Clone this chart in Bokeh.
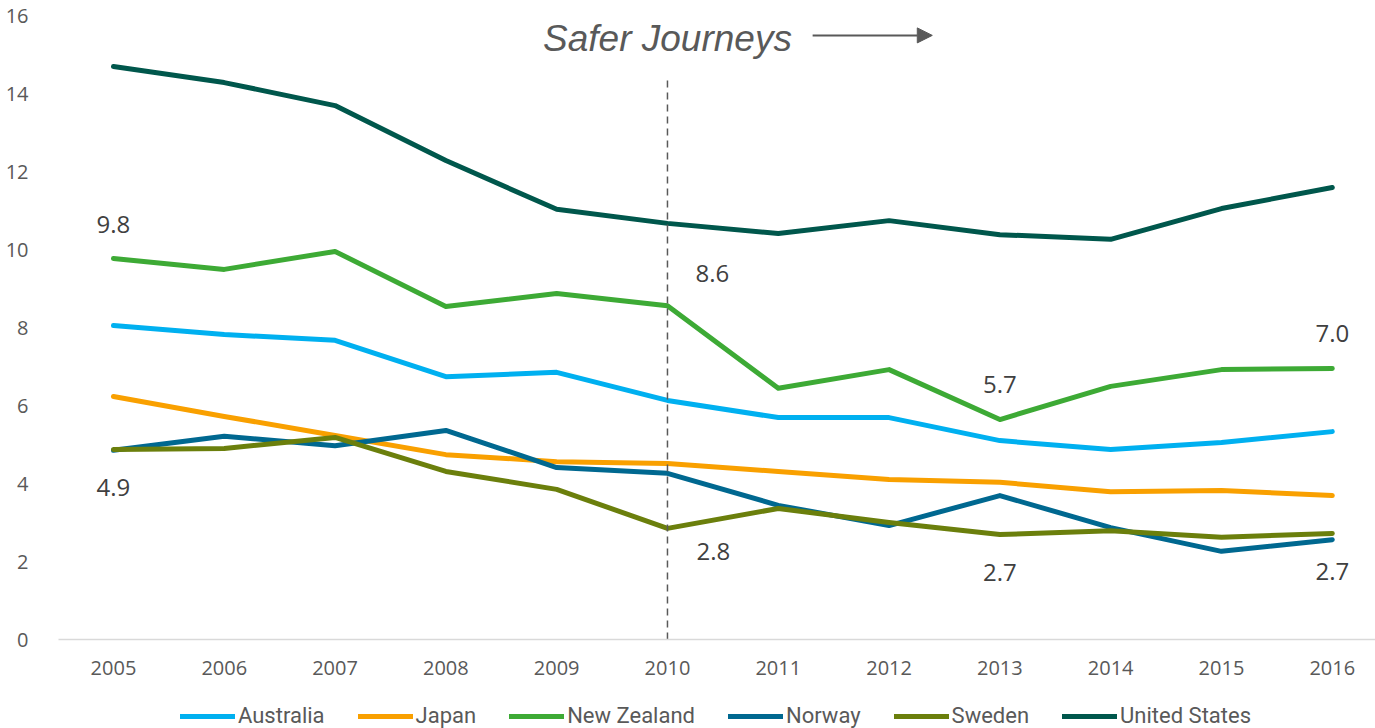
from bokeh.plotting import figure
from bokeh.layouts import column
from bokeh.models import (Range1d, FixedTicker, Legend, LegendItem, Label, Arrow,
                          NormalHead, ColumnDataSource)
from bokeh.core.properties import value
from bokeh.embed import file_html
from bokeh.resources import INLINE

years = [2005, 2006, 2007, 2008, 2009, 2010, 2011, 2012, 2013, 2014, 2015, 2016]
australia = [8.05, 7.82, 7.67, 6.74, 6.85, 6.13, 5.69, 5.69, 5.10, 4.87, 5.05, 5.33]
japan = [6.23, 5.72, 5.23, 4.74, 4.56, 4.51, 4.31, 4.10, 4.03, 3.79, 3.82, 3.69]
new_zealand = [9.77, 9.49, 9.95, 8.54, 8.87, 8.56, 6.44, 6.92, 5.64, 6.49, 6.92, 6.95]
norway = [4.85, 5.21, 4.97, 5.36, 4.41, 4.26, 3.44, 2.92, 3.69, 2.87, 2.26, 2.56]
sweden = [4.87, 4.90, 5.18, 4.31, 3.85, 2.85, 3.36, 3.00, 2.69, 2.79, 2.62, 2.72]
united_states = [14.69, 14.28, 13.69, 12.28, 11.03, 10.67, 10.41, 10.74, 10.38, 10.26, 11.05, 11.59]

series_names = ["Australia", "Japan", "New Zealand", "Norway", "Sweden", "United States"]
series_values = [australia, japan, new_zealand, norway, sweden, united_states]
series_colors = ["#00B0F0", "#F9A000", "#3DAA35", "#006890", "#6B7F0C", "#00574C"]

y_ticks = [0, 2, 4, 6, 8, 10, 12, 14, 16]
x_tick_labels = {y: str(y) for y in years}

# data labels: (year, value text, series)
label_years = [2005, 2005, 2010, 2010, 2013, 2013, 2016, 2016]
label_series = ["New Zealand", "Sweden", "New Zealand", "Sweden",
                "New Zealand", "Sweden", "New Zealand", "Sweden"]
label_texts = ["9.8", "4.9", "8.6", "2.8", "5.7", "2.7", "7.0", "2.7"]
# styling offsets (pixels)
label_dx = [0, 0, 45, 46, 0, 0, 0, 0]
label_dy = [-34, 38, -32, 23, -35, 38, -35, 38]

policy_year = 2010
policy_text = "Safer Journeys"

p = figure(width=1375, height=700, output_backend="svg", toolbar_location=None,
           x_range=Range1d(2004.504, 2016.39), y_range=Range1d(0, 16),
           min_border_left=58, min_border_top=15, min_border_right=0, min_border_bottom=61)
p.outline_line_color = None
p.xgrid.grid_line_color = None
p.ygrid.grid_line_color = None
p.background_fill_color = "white"
p.border_fill_color = "white"

renderers = []
for name, vals, col in zip(series_names, series_values, series_colors):
    r = p.line(years, vals, line_color=col, line_width=5, line_cap="round", line_join="round")
    renderers.append(r)

# data labels
lookup = dict(zip(series_names, series_values))
lx = [y for y in label_years]
ly = [lookup[s][years.index(y)] for s, y in zip(label_series, label_years)]
src = ColumnDataSource(dict(x=lx, y=ly, t=label_texts, dx=label_dx, dy=label_dy))
p.text(x="x", y="y", text="t", x_offset="dx", y_offset="dy", source=src,
       text_font=value("Open Sans"), text_font_size="24px", text_color="#404040",
       text_align="center", text_baseline="middle")

# policy marker
p.segment(x0=[policy_year], y0=[0], x1=[policy_year], y1=[14.46],
          line_color="#595959", line_width=1.5, line_dash="7 5")
p.add_layout(Label(x=policy_year, y=15.41, text=policy_text, text_font="Liberation Sans",
                   text_font_style="italic", text_font_size="37px", text_color="#595959",
                   text_align="center", text_baseline="middle"))
p.add_layout(Arrow(x_start=2011.31, y_start=15.49, x_end=2012.39, y_end=15.49,
                   line_color="#595959", line_width=2,
                   end=NormalHead(size=15, fill_color="#595959", line_color="#595959")))

# axes
p.xaxis.ticker = FixedTicker(ticks=years)
p.xaxis.major_label_overrides = x_tick_labels
p.xaxis.major_tick_line_color = None
p.xaxis.minor_tick_line_color = None
p.xaxis.axis_line_color = "#D9D9D9"
p.xaxis.axis_line_width = 1.5
p.xaxis.major_label_text_font = "Open Sans"
p.xaxis.major_label_text_font_size = "20px"
p.xaxis.major_label_text_color = "#595959"
p.xaxis.major_label_standoff = 15

p.yaxis.ticker = FixedTicker(ticks=y_ticks)
p.yaxis.major_tick_line_color = None
p.yaxis.minor_tick_line_color = None
p.yaxis.axis_line_color = None
p.yaxis.major_label_text_font = "Open Sans"
p.yaxis.major_label_text_font_size = "20px"
p.yaxis.major_label_text_color = "#595959"
p.yaxis.major_label_standoff = 24

# legend strip below the chart (series drawn outside its visible range, only legend shows)
p2 = figure(width=1375, height=28, output_backend="svg", toolbar_location=None,
            x_axis_type=None, y_axis_type=None, min_border=0,
            x_range=Range1d(0, 1), y_range=Range1d(0, 1))
p2.outline_line_color = None
p2.xgrid.grid_line_color = None
p2.ygrid.grid_line_color = None
leg_renderers = []
for name, vals, col in zip(series_names, series_values, series_colors):
    leg_renderers.append(p2.line(years, vals, line_color=col, line_width=5, line_cap="round"))

legend = Legend(items=[LegendItem(label=n, renderers=[r]) for n, r in zip(series_names, leg_renderers)],
                orientation="horizontal", location=(122, 0), padding=0, margin=0,
                spacing=33, glyph_width=55, glyph_height=22, label_standoff=3,
                label_text_font="Roboto", label_text_font_size="22px",
                label_text_color="#595959", border_line_color=None,
                background_fill_alpha=0)
p2.add_layout(legend, "center")

layout = column(p, p2, spacing=0)
open("out.html", "w").write(file_html(layout, INLINE))
